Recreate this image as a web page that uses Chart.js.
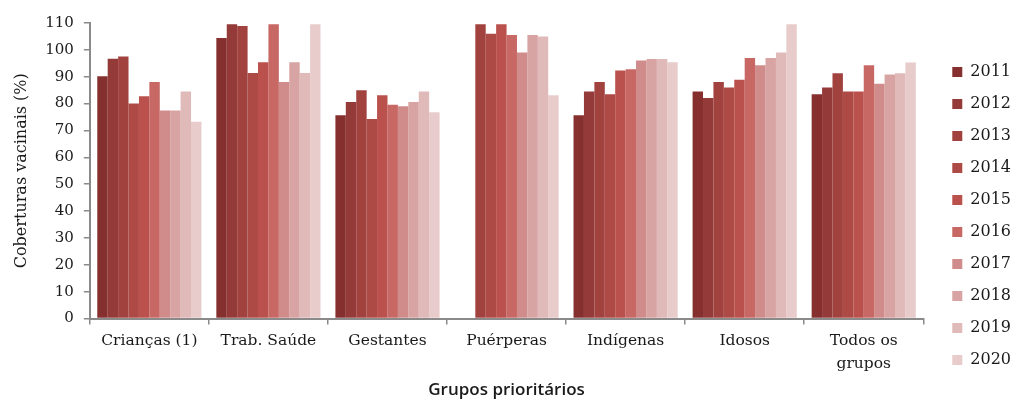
<!DOCTYPE html>
<html>
<head>
<meta charset="utf-8">
<script src="https://cdn.jsdelivr.net/npm/chart.js@4/dist/chart.umd.min.js"></script>
<style>
  html, body { margin: 0; padding: 0; background: #ffffff; }
  #wrap { position: relative; width: 1018px; height: 399px; }
</style>
</head>
<body>
<div id="wrap"><canvas id="chart" width="1018" height="399"></canvas></div>
<script>
// Vaccination coverage (%) by priority group, 2011-2020
const categories = ['Crianças (1)', 'Trab. Saúde', 'Gestantes', 'Puérperas', 'Indígenas', 'Idosos', ['Todos os', 'grupos']];
const years = ['2011', '2012', '2013', '2014', '2015', '2016', '2017', '2018', '2019', '2020'];
const yTicks = [0, 10, 20, 30, 40, 50, 60, 70, 80, 90, 100, 110];

// One array per year, values in category order
const v2011 = [90.2, 104.4, 75.7, null, 75.7, 84.5, 83.5];
const v2012 = [96.7, 109.5, 80.6, null, 84.5, 82.1, 86.0];
const v2013 = [97.5, 108.9, 85.0, 109.5, 88.0, 88.0, 91.3];
const v2014 = [80.0, 91.4, 74.3, 106.0, 83.5, 86.0, 84.5];
const v2015 = [82.7, 95.4, 83.1, 109.5, 92.3, 88.9, 84.5];
const v2016 = [88.0, 109.5, 79.6, 105.5, 92.8, 97.0, 94.3];
const v2017 = [77.4, 88.0, 79.0, 99.0, 96.0, 94.3, 87.4];
const v2018 = [77.4, 95.4, 80.6, 105.5, 96.6, 97.0, 90.8];
const v2019 = [84.5, 91.4, 84.5, 105.0, 96.6, 99.0, 91.3];
const v2020 = [73.2, 109.5, 76.8, 83.1, 95.4, 109.5, 95.3];
const seriesValues = [v2011, v2012, v2013, v2014, v2015, v2016, v2017, v2018, v2019, v2020];

const palette = ['#85302f', '#943a38', '#a2423f', '#ae4a46', '#ba514d', '#c76865', '#cf8c8b', '#d8a3a3', '#e0b9b9', '#e8cccc'];

const serif = "'DejaVu Serif', 'Liberation Serif', serif";
const axisGrey = '#8a8a8a';

const datasets = years.map((y, i) => ({
  label: y,
  data: seriesValues[i],
  backgroundColor: palette[i],
  borderWidth: 0,
  categoryPercentage: 0.875,
  barPercentage: 1.0
}));

// Nudge the legend block a little lower and to the right of its default slot
const legendNudge = {
  id: 'legendNudge',
  afterLayout(chart) {
    const lg = chart.legend;
    if (!lg) return;
    const dy = 5, dx = 13;
    lg.top += dy; lg.bottom += dy;
    lg.left += dx; lg.right += dx;
    (lg.legendHitBoxes || []).forEach(b => { b.top += dy; b.left += dx; });
  }
};

new Chart(document.getElementById('chart'), {
  type: 'bar',
  data: { labels: categories, datasets },
  plugins: [legendNudge],
  options: {
    responsive: false,
    animation: false,
    devicePixelRatio: 1,
    layout: { padding: { top: 23, right: 10, left: 12, bottom: 0 } },
    plugins: {
      tooltip: { enabled: false },
      legend: {
        position: 'right',
        align: 'center',
        labels: {
          boxWidth: 10,
          boxHeight: 10,
          padding: 16,
          color: '#1a1a1a',
          font: { family: serif, size: 16 }
        }
      }
    },
    scales: {
      x: {
        grid: { display: true, drawOnChartArea: false, drawTicks: true, tickLength: 6, color: axisGrey, lineWidth: 1.5, offset: true },
        border: { color: axisGrey, width: 2 },
        ticks: { color: '#1a1a1a', font: { family: serif, size: 15.5, lineHeight: 1.5 }, padding: 5, maxRotation: 0, autoSkip: false },
        title: {
          display: true,
          text: 'Grupos prioritários',
          color: '#1a1a1a',
          font: { family: "'Open Sans', sans-serif", size: 17, weight: '600', lineHeight: 1.0 },
          padding: { top: 1, bottom: 0 }
        }
      },
      y: {
        min: 0,
        max: 110,
        afterBuildTicks: (scale) => { scale.ticks = yTicks.map(v => ({ value: v })); },
        grid: { display: true, drawOnChartArea: false, drawTicks: true, tickLength: 6, color: axisGrey, lineWidth: 1.5 },
        border: { color: axisGrey, width: 2 },
        ticks: { color: '#1a1a1a', font: { family: serif, size: 15 }, padding: 10 },
        title: {
          display: true,
          text: 'Coberturas vacinais (%)',
          color: '#1a1a1a',
          font: { family: serif, size: 16 },
          padding: { top: 0, bottom: 4 }
        }
      }
    }
  }
});
</script>
</body>
</html>
